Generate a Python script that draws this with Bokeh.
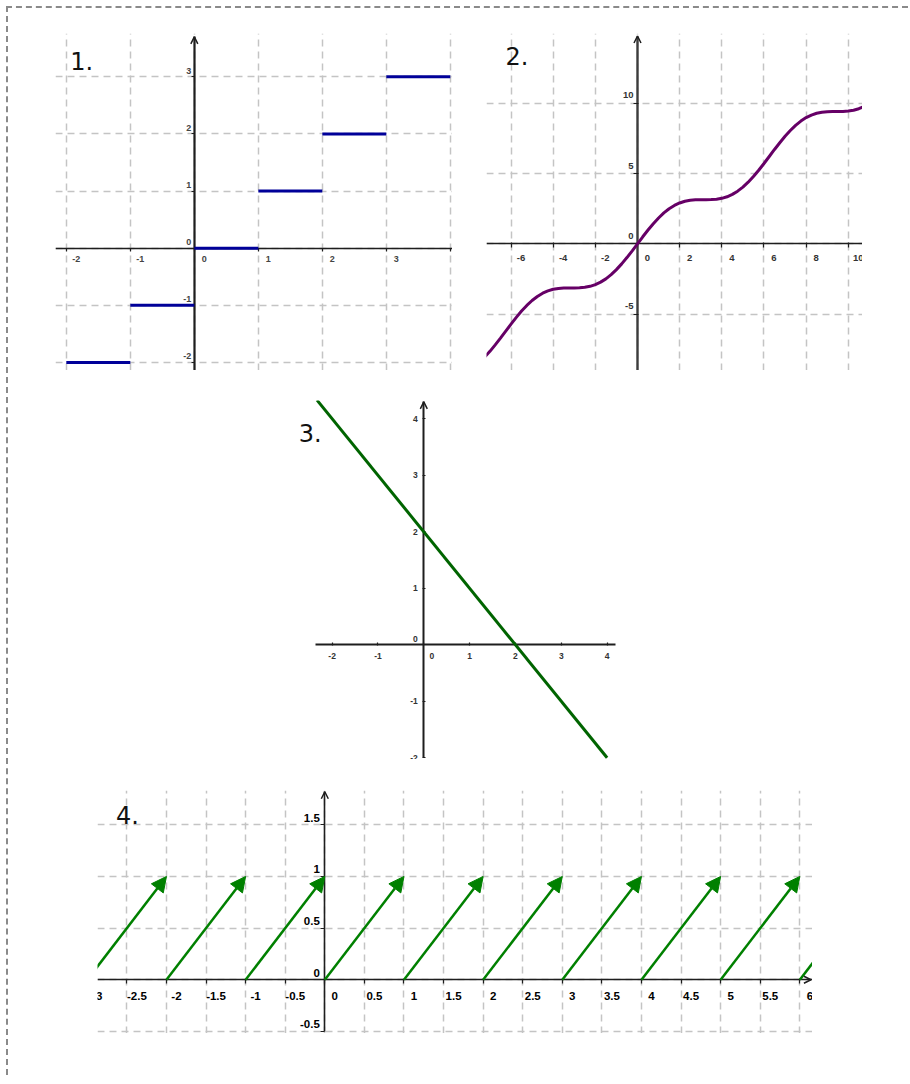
from bokeh.plotting import figure
from bokeh.models import (FixedTicker, Arrow, NormalHead, OpenHead, Label,
                          ColumnDataSource, Spacer, CustomJSTickFormatter)
from bokeh.layouts import row, column
from bokeh.core.properties import value
from bokeh.embed import file_html
from bokeh.resources import INLINE

# ---------------- data ----------------
# 1. step function
c1_seg_x0 = [-2, -1, 0, 1, 2, 3]
c1_seg_x1 = [-1, 0, 1, 2, 3, 4]
c1_seg_y = [-2, -1, 0, 1, 2, 3]
c1_xticks = [-2, -1, 0, 1, 2, 3, 4]
c1_yticks = [-2, -1, 0, 1, 2, 3]
c1_xlab_pos = [-2, -1, 0, 1, 2, 3]
c1_xlab_text = ["-2", "-1", "0", "1", "2", "3"]
c1_ylab_pos = [-2, -1, 0, 1, 2, 3]
c1_ylab_text = ["-2", "-1", "0", "1", "2", "3"]

# 2. wavy increasing curve
c2_x = [-7.25, -7.0, -6.75, -6.5, -6.25, -6.0, -5.75, -5.5, -5.25, -5.0,
        -4.75, -4.5, -4.25, -4.0, -3.75, -3.5, -3.25, -3.0, -2.75, -2.5,
        -2.25, -2.0, -1.75, -1.5, -1.25, -1.0, -0.75, -0.5, -0.25, 0.0,
        0.25, 0.5, 0.75, 1.0, 1.25, 1.5, 1.75, 2.0, 2.25, 2.5,
        2.75, 3.0, 3.25, 3.5, 3.75, 4.0, 4.25, 4.5, 4.75, 5.0,
        5.25, 5.5, 5.75, 6.0, 6.25, 6.5, 6.75, 7.0, 7.25, 7.5,
        7.75, 8.0, 8.25, 8.5, 8.75, 9.0, 9.25, 9.5, 9.75, 10.0,
        10.25, 10.5, 10.75]
c2_y = [-8.07, -7.66, -7.20, -6.72, -6.22, -5.72, -5.24, -4.79, -4.39, -4.04,
        -3.75, -3.52, -3.35, -3.24, -3.18, -3.15, -3.14, -3.14, -3.13, -3.10,
        -3.03, -2.91, -2.73, -2.50, -2.20, -1.84, -1.43, -0.98, -0.50, 0.0,
        0.50, 0.98, 1.43, 1.84, 2.20, 2.50, 2.73, 2.91, 3.03, 3.10,
        3.13, 3.14, 3.14, 3.15, 3.18, 3.24, 3.35, 3.52, 3.75, 4.04,
        4.39, 4.79, 5.24, 5.72, 6.22, 6.72, 7.20, 7.66, 8.07, 8.44,
        8.74, 8.99, 9.17, 9.30, 9.37, 9.41, 9.42, 9.42, 9.43, 9.46,
        9.51, 9.62, 9.78]
c2_xticks = [-6, -4, -2, 0, 2, 4, 6, 8, 10]
c2_yticks = [-5, 0, 5, 10]
c2_xlab_pos = [-6, -4, -2, 0, 2, 4, 6, 8, 10]
c2_xlab_text = ["-6", "-4", "-2", "0", "2", "4", "6", "8", "10"]
c2_ylab_pos = [-5, 0, 5, 10]
c2_ylab_text = ["-5", "0", "5", "10"]

# 3. straight line
c3_x = [-2.33, 4.0]
c3_y = [4.33, -2.0]
c3_xticks = [-2, -1, 0, 1, 2, 3, 4]
c3_yticks = [-2, -1, 0, 1, 2, 3, 4]
c3_xlab_pos = [-2, -1, 0, 1, 2, 3, 4]
c3_xlab_text = ["-2", "-1", "0", "1", "2", "3", "4"]
c3_ylab_pos = [-2, -1, 0, 1, 2, 3, 4]
c3_ylab_text = ["-2", "-1", "0", "1", "2", "3", "4"]

# 4. sawtooth of vectors
c4_x0 = [-3, -2, -1, 0, 1, 2, 3, 4, 5, 6]
c4_y0 = [0, 0, 0, 0, 0, 0, 0, 0, 0, 0]
c4_x1 = [-2, -1, 0, 1, 2, 3, 4, 5, 6, 7]
c4_y1 = [1, 1, 1, 1, 1, 1, 1, 1, 1, 1]
c4_xticks = [-2.5, -2, -1.5, -1, -0.5, 0, 0.5, 1, 1.5, 2, 2.5, 3, 3.5, 4, 4.5,
             5, 5.5, 6]
c4_yticks = [-0.5, 0, 0.5, 1, 1.5]
c4_xlab_pos = [-3, -2.5, -2, -1.5, -1, -0.5, 0, 0.5, 1, 1.5, 2, 2.5, 3, 3.5, 4,
               4.5, 5, 5.5, 6]
c4_xlab_text = ["-3", "-2.5", "-2", "-1.5", "-1", "-0.5", "0", "0.5", "1", "1.5",
                "2", "2.5", "3", "3.5", "4", "4.5", "5", "5.5", "6"]
c4_ylab_pos = [-0.5, 0, 0.5, 1, 1.5]
c4_ylab_text = ["-0.5", "0", "0.5", "1", "1.5"]

# ---------------- styles ----------------
FONT = value("Liberation Sans")
BLUE = "#000099"
PURPLE = "#660066"
GREEN3 = "#006400"
GREEN4 = "#008000"
GRID = "#c4c4c4"
AX = "#1e1e1e"


def base_fig(w, h, xr, yr):
    p = figure(width=w, height=h, x_range=xr, y_range=yr, output_backend="svg",
               toolbar_location=None, min_border=0, outline_line_color=None)
    p.min_border_left = 0
    p.min_border_right = 0
    p.min_border_top = 0
    p.min_border_bottom = 0
    return p


def setup_axes(p, xticks, yticks, xbounds="auto", ybounds="auto", xw=1.5, yw=2,
               color=AX, tick_in=0, tick_out=3, grid=True):
    for ax, ticks, bounds, w in ((p.xaxis[0], xticks, xbounds, xw),
                                 (p.yaxis[0], yticks, ybounds, yw)):
        ax.fixed_location = 0
        ax.ticker = FixedTicker(ticks=ticks)
        ax.formatter = CustomJSTickFormatter(code="return ''")
        ax.bounds = bounds
        ax.axis_line_color = color
        ax.axis_line_width = w
        ax.major_tick_line_color = color
        ax.major_tick_line_width = 1.2
        ax.major_tick_in = tick_in
        ax.major_tick_out = tick_out
        ax.minor_tick_line_color = None
        ax.level = "underlay"
    for g in (p.xgrid[0], p.ygrid[0]):
        g.visible = grid
        g.grid_line_color = GRID
        g.grid_line_dash = "7 5"
        g.grid_line_width = 1.5
        g.level = "image"


def labels(p, xs, ys, texts, size, color, align, xoff, yoff):
    p.text(x=xs, y=ys, text=texts, text_font=FONT, text_font_size=size,
           text_font_style="bold", text_color=color, text_align=align,
           text_baseline="middle", x_offset=xoff, y_offset=yoff)


def axis_arrow(p, x0, y0, x1, y1, color=AX, w=1.5, size=7):
    p.add_layout(Arrow(end=OpenHead(size=size, line_color=color, line_width=w),
                       x_start=x0, y_start=y0, x_end=x1, y_end=y1, line_alpha=0))


def number(p, x, y, txt):
    p.add_layout(Label(x=x, y=y, text=txt, text_font="DejaVu Sans",
                       text_font_size="24px", text_color="#111111",
                       text_baseline="alphabetic", text_align="left"))


# ---------------- chart 1 ----------------
p1 = base_fig(397, 337, (-2.169, 4.034), (-2.141, 3.758))
setup_axes(p1, c1_xticks, c1_yticks, ybounds=(-2.141, 3.70), xw=1.5, yw=2.2)
p1.segment(x0=c1_seg_x0, y0=c1_seg_y, x1=c1_seg_x1, y1=c1_seg_y,
           line_color=BLUE, line_width=3)
labels(p1, c1_xlab_pos, [0] * len(c1_xlab_pos), c1_xlab_text, "9px", "#444444",
       "center", 10, 11)
labels(p1, [0] * len(c1_ylab_pos), c1_ylab_pos, c1_ylab_text, "9px", "#444444",
       "right", -3, -6)
axis_arrow(p1, 0, 3.6, 0, 3.70)
number(p1, -1.94, 3.28, "1.")

# ---------------- chart 2 ----------------
p2 = base_fig(376, 337, (-7.163, 10.674), (-9.024, 14.979))
setup_axes(p2, c2_xticks, c2_yticks, ybounds=(-9.024, 14.8), xw=1.5, yw=2.4,
           tick_in=1, tick_out=4)
p2.yaxis[0].axis_line_color = "#3c3c3c"
p2.line(c2_x, c2_y, line_color=PURPLE, line_width=3)
labels(p2, c2_xlab_pos, [0] * len(c2_xlab_pos), c2_xlab_text, "9.5px", "#333333",
       "center", 10, 14)
labels(p2, [0] * len(c2_ylab_pos), c2_ylab_pos, c2_ylab_text, "9.5px", "#333333",
       "right", -4, -8)
axis_arrow(p2, 0, 14.3, 0, 14.8)
number(p2, -6.26, 13.36, "2.")

# ---------------- chart 3 ----------------
p3 = base_fig(318, 359, (-2.734, 4.205), (-2.030, 4.324))
setup_axes(p3, c3_xticks, c3_yticks, xbounds=(-2.363, 4.183), ybounds=(-2.0, 4.30),
           xw=2, yw=2, tick_in=2, tick_out=1, grid=False)
p3.line(c3_x, c3_y, line_color=GREEN3, line_width=3)
labels(p3, c3_xlab_pos, [0] * len(c3_xlab_pos), c3_xlab_text, "8.5px", "#333333",
       "center", [8 if v == 0 else 0 for v in c3_xlab_pos], 11)
labels(p3, [0] * len(c3_ylab_pos), c3_ylab_pos, c3_ylab_text, "8.5px", "#333333",
       "right", -6, [-6 if v == 0 else 0 for v in c3_ylab_pos])
axis_arrow(p3, 0, 4.2, 0, 4.30)
number(p3, -2.73, 3.755, "3.")

# ---------------- chart 4 ----------------
p4 = base_fig(715, 243, (-2.871, 6.160), (-0.520, 1.832))
setup_axes(p4, c4_xticks, c4_yticks, ybounds=(-0.5, 1.82), xw=1.6, yw=1.6,
           tick_in=0, tick_out=4)
src4 = ColumnDataSource(dict(x0=c4_x0, y0=c4_y0, x1=c4_x1, y1=c4_y1))
p4.add_layout(Arrow(source=src4, x_start="x0", y_start="y0", x_end="x1", y_end="y1",
                    line_color=GREEN4, line_width=2.5,
                    end=NormalHead(size=15, fill_color=GREEN4, line_color=GREEN4,
                                   line_width=1)))
labels(p4, c4_xlab_pos, [0] * len(c4_xlab_pos), c4_xlab_text, "11.5px", "#000000",
       "center", 10, 16)
labels(p4, [0] * len(c4_ylab_pos), c4_ylab_pos, c4_ylab_text, "11.5px", "#000000",
       "right", -5, -7)
axis_arrow(p4, 0, 1.7, 0, 1.82)
axis_arrow(p4, 6.0, 0, 6.14, 0)
number(p4, -2.637, 1.592, "4.")

layout = column(
    Spacer(width=900, height=25),
    row(Spacer(width=47, height=337), p1, Spacer(width=34, height=337), p2,
        Spacer(width=46, height=337)),
    Spacer(width=900, height=30),
    row(Spacer(width=290, height=359), p3),
    Spacer(width=900, height=31),
    row(Spacer(width=89, height=243), p4),
    Spacer(width=900, height=42),
    styles={"border-top": "2px dashed #8a8a8a", "border-left": "2px dashed #8a8a8a",
            "margin-top": "6px", "margin-left": "6px"},
)

open("out.html", "w").write(file_html(layout, INLINE))
